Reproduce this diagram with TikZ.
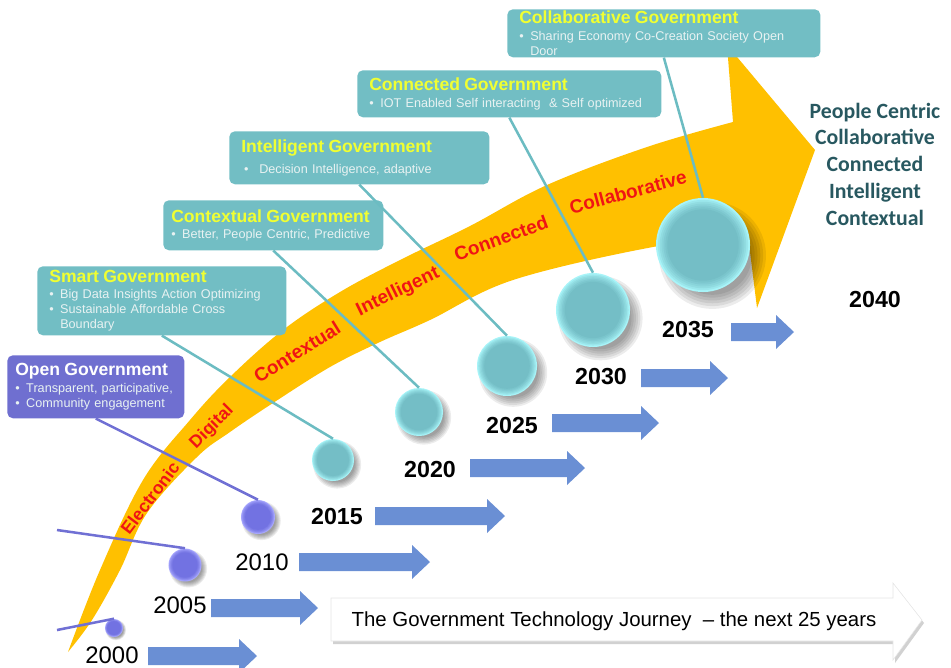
\documentclass[tikz,border=0pt]{standalone}
\usepackage{fontspec}
\setmainfont{Liberation Sans}
\newfontfamily\carlito{Carlito}

\definecolor{gold}{RGB}{255,192,0}
\definecolor{tealbox}{RGB}{114,190,196}
\definecolor{purplebox}{RGB}{111,111,208}
\definecolor{titleyellow}{RGB}{240,255,50}
\definecolor{bullettext}{RGB}{232,242,242}
\definecolor{tealline}{RGB}{108,188,194}
\definecolor{purpleline}{RGB}{112,112,212}
\definecolor{blockblue}{RGB}{106,143,212}
\definecolor{bandred}{RGB}{240,20,20}
\definecolor{darkteal}{RGB}{40,88,96}
\definecolor{tcore}{RGB}{116,190,198}
\definecolor{trim}{RGB}{168,244,248}
\definecolor{pcore}{RGB}{114,114,226}
\definecolor{prim}{RGB}{170,170,255}

\newcommand\gtitle[2][titleyellow]{{\fontsize{12.5}{14}\selectfont\bfseries\color{#1}#2}}
\newcommand\bul{\makebox[7.8pt][l]{•}}

\tikzset{
	govbox/.style={fill=tealbox, rounded corners=4pt, anchor=north west, align=left, inner xsep=0.3cm, inner ysep=0pt, text=bullettext, font=\fontsize{9}{10.7}\selectfont},
	openbox/.style={govbox, fill=purplebox, inner xsep=0.2cm},
	tball/.style={circle, inner sep=0pt, minimum size=#1, fill=trim, path picture={\foreach \k/\m in {0.48/25,0.46/45,0.44/60,0.42/75,0.40/88,0.38/100} \fill[tcore!\m!trim] (path picture bounding box.center) circle[radius=\k*#1];}},
	pball/.style={circle, inner sep=0pt, minimum size=#1, fill=prim, path picture={\foreach \k/\m in {0.48/25,0.46/45,0.44/60,0.42/75,0.40/88,0.38/100} \fill[pcore!\m!prim] (path picture bounding box.center) circle[radius=\k*#1];}},
	ballshadow/.style={fill=black, opacity=0.075},
	tline/.style={draw=tealline, line width=1.8pt},
	pline/.style={draw=purpleline, line width=1.8pt},
	blockarrow/.style={fill=blockblue},
	bandtext/.style={text=bandred, font=\fontsize{13.5}{15}\selectfont\bfseries},
	yr/.style={font=\fontsize{17}{20}\selectfont},
	yrb/.style={font=\fontsize{16.5}{20}\selectfont\bfseries}
}

\begin{document}
\begin{tikzpicture}[x=0.025cm, y=-0.025cm]
		\useasboundingbox (0,0) rectangle (951,667);
		\fill[blockarrow] (148,656) ++(0,-9) -- ++(91,0) -- ++(0,-8) -- ++(18,17) -- ++(-18,17) -- ++(0,-8) -- ++(-91,0) -- cycle;
		\fill[blockarrow] (211,608) ++(0,-9) -- ++(89,0) -- ++(0,-8) -- ++(18,17) -- ++(-18,17) -- ++(0,-8) -- ++(-89,0) -- cycle;
		\fill[blockarrow] (299,562) ++(0,-9) -- ++(113,0) -- ++(0,-8) -- ++(18,17) -- ++(-18,17) -- ++(0,-8) -- ++(-113,0) -- cycle;
		\fill[blockarrow] (375,516) ++(0,-9) -- ++(112,0) -- ++(0,-8) -- ++(18,17) -- ++(-18,17) -- ++(0,-8) -- ++(-112,0) -- cycle;
		\fill[blockarrow] (470,468) ++(0,-9) -- ++(97,0) -- ++(0,-8) -- ++(18,17) -- ++(-18,17) -- ++(0,-8) -- ++(-97,0) -- cycle;
		\fill[blockarrow] (552,423) ++(0,-9) -- ++(89,0) -- ++(0,-8) -- ++(18,17) -- ++(-18,17) -- ++(0,-8) -- ++(-89,0) -- cycle;
		\fill[blockarrow] (641,378) ++(0,-9) -- ++(69,0) -- ++(0,-8) -- ++(18,17) -- ++(-18,17) -- ++(0,-8) -- ++(-69,0) -- cycle;
		\fill[blockarrow] (731,332) ++(0,-9) -- ++(45,0) -- ++(0,-8) -- ++(18,17) -- ++(-18,17) -- ++(0,-8) -- ++(-45,0) -- cycle;
		\fill[black!18] (333,601) -- (895,601) -- (895,586) -- (924,623) -- (895,663) -- (895,644) -- (333,644) -- cycle;
		\filldraw[fill=white, draw=black!10] (331,598) -- (893,598) -- (893,583) -- (922,620) -- (893,660) -- (893,641) -- (331,641) -- cycle;
		\node (jt) at (614,621) {\fontsize{14.5}{16}\selectfont The Government Technology Journey \ – the next 25 years};
		\fill[gold] plot[smooth, tension=0.6] coordinates {(68,652) (100,570) (143,480) (190,420) (230,377) (283,330) (340,292) (400,260) (470,226) (547,185) (647,147) (733,122)} -- (727,45) -- (815,150) -- (757,308) -- plot[smooth, tension=0.6] coordinates {(748,236) (653,247) (513,280) (430,320) (380,342) (330,367) (273,403) (230,432) (197,457) (147,513) (120,570) (92,620) (68,652)} -- cycle;
		\node (e1)[bandtext, font=\fontsize{12.5}{14}\selectfont\bfseries, rotate=53] at (150,498) {Electronic};
		\node (e2)[bandtext, font=\fontsize{12.5}{14}\selectfont\bfseries, rotate=45] at (212,427) {Digital};
		\node (e3)[bandtext, rotate=32] at (297,352) {Contextual};
		\node (e4)[bandtext, rotate=26] at (398,292) {Intelligent};
		\node (e5)[bandtext, rotate=20] at (501,238) {Connected};
		\node (e6)[bandtext, rotate=15] at (628,192) {Collaborative};
		\node (b6)[govbox, text width=7.225cm, minimum height=1.2cm] at (507,9) {\gtitle{Collaborative Government}\\[1pt]\bul Sharing Economy Co-Creation Society Open\\\hspace*{7.8pt}Door};
		\node (b5)[govbox, text width=7cm, minimum height=1.175cm] at (357,70) {\gtitle{Connected Government}\\[1pt]\bul IOT Enabled Self interacting \ \& Self optimized};
		\node (b4)[govbox, text width=5.9cm, minimum height=1.325cm] at (229,131) {\gtitle{Intelligent Government}\\[4pt]\hspace*{2pt}\bul\ Decision Intelligence, adaptive};
		\node (b3)[govbox, inner xsep=0.2cm, text width=5.1cm, minimum height=1.25cm] at (163,200) {\gtitle{Contextual Government}\\[1pt]\bul Better, People Centric, Predictive};
		\node (b2)[govbox, text width=5.625cm, minimum height=1.725cm] at (37,266) {\gtitle{Smart Government}\\[1pt]\bul Big Data Insights Action Optimizing\\\bul Sustainable Affordable Cross\\\hspace*{7.8pt}Boundary};
		\node (b1)[openbox, text width=4.025cm, minimum height=1.575cm] at (7,355) {\gtitle[white]{Open Government}\\[1pt]\bul Transparent, participative,\\\bul Community engagement};
		\foreach \x/\y/\r in {114/628/9, 185/565/16.5, 258/517/17, 333/460/21, 419/412/24, 507/366/30, 593/310/37, 703/245/47}
			\foreach \s in {1.14,1.08,1.02,0.96,0.9,0.84}
				\fill[ballshadow] (\x+0.2*\r,\y+0.22*\r) circle[radius=\s*\r];
		\node (1)[pball=0.45cm] at (114,628) {};
		\node (2)[pball=0.825cm] at (185,565) {};
		\node (3)[pball=0.85cm] at (258,517) {};
		\node (4)[tball=1.05cm] at (333,460) {};
		\node (5)[tball=1.2cm] at (419,412) {};
		\node (6)[tball=1.5cm] at (507,366) {};
		\node (7)[tball=1.85cm] at (593,310) {};
		\node (8)[tball=2.35cm] at (703,245) {};
		\coordinate (f2) at (57,530);
		\coordinate (f1) at (57,630);
		\draw[pline] (f1)--(1.north);
		\draw[pline] (f2)--(2.north);
		\draw[pline] (b1.south)--(3.north);
		\draw[tline] (b2.south)--(4.north);
		\draw[tline] (b3.south)--(5.north);
		\draw[tline] (b4.south)--(6.north);
		\draw[tline] (b5.south)--(7.north);
		\draw[tline] (b6.south)--(8.north);
		\node (y1)[yr] at (112,655) {2000};
		\node (y2)[yr] at (180,605) {2005};
		\node (y3)[yr] at (262,562) {2010};
		\node (y4)[yrb] at (337,516) {2015};
		\node (y5)[yrb] at (430,469) {2020};
		\node (y6)[yrb] at (512,425) {2025};
		\node (y7)[yrb] at (601,377) {2030};
		\node (y8)[yrb] at (688,330) {2035};
		\node (y9)[yrb] at (875,300) {2040};
		\node (rt)[align=center, text=darkteal, font=\carlito\bfseries\fontsize{15.5}{19}\selectfont] at (875,164) {People Centric\\Collaborative\\Connected\\Intelligent\\Contextual};
	\end{tikzpicture}
\end{document}
